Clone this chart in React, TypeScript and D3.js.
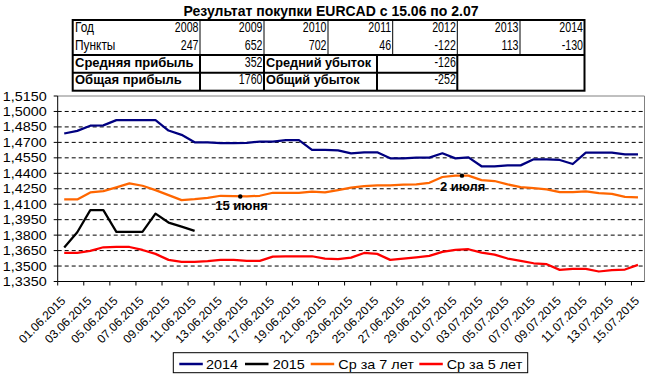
import React from "react";
import * as d3 from "d3";

const title = "Результат покупки EURCAD с 15.06 по 2.07";
const years = ["2008", "2009", "2010", "2011", "2012", "2013", "2014"];
const points = ["247", "652", "702", "46", "-122", "113", "-130"];
const avgProfit = "352";
const avgLoss = "-126";
const totalProfit = "1760";
const totalLoss = "-252";

const dates = [
  "01.06.2015","02.06.2015","03.06.2015","04.06.2015","05.06.2015","06.06.2015","07.06.2015","08.06.2015","09.06.2015","10.06.2015",
  "11.06.2015","12.06.2015","13.06.2015","14.06.2015","15.06.2015","16.06.2015","17.06.2015","18.06.2015","19.06.2015","20.06.2015",
  "21.06.2015","22.06.2015","23.06.2015","24.06.2015","25.06.2015","26.06.2015","27.06.2015","28.06.2015","29.06.2015","30.06.2015",
  "01.07.2015","02.07.2015","03.07.2015","04.07.2015","05.07.2015","06.07.2015","07.07.2015","08.07.2015","09.07.2015","10.07.2015",
  "11.07.2015","12.07.2015","13.07.2015","14.07.2015","15.07.2015",
];

const s2014 = [
  1.4786, 1.4812, 1.4862, 1.4865, 1.4916, 1.4916, 1.4916, 1.4916, 1.4815, 1.4773,
  1.4701, 1.4701, 1.4692, 1.4692, 1.4695, 1.4708, 1.4708, 1.4721, 1.4721, 1.4627,
  1.4627, 1.4623, 1.4594, 1.4604, 1.4604, 1.4545, 1.4545, 1.4552, 1.4552, 1.4594,
  1.4545, 1.4555, 1.4468, 1.4468, 1.4477, 1.4477, 1.4536, 1.4536, 1.4529, 1.449,
  1.4601, 1.4601, 1.4601, 1.4584, 1.4584,
];
const s2015 = [1.3679, 1.3828, 1.4042, 1.4042, 1.3831, 1.3831, 1.3831, 1.4009, 1.3922, 1.3883, 1.3841];
const sAvg7 = [
  1.4146, 1.4146, 1.4214, 1.4227, 1.4263, 1.4302, 1.4279, 1.4237, 1.4188, 1.414,
  1.4149, 1.4162, 1.4182, 1.4179, 1.4175, 1.4182, 1.4211, 1.4211, 1.4211, 1.4221,
  1.4214, 1.4237, 1.426, 1.4276, 1.4282, 1.4282, 1.4289, 1.4292, 1.4308, 1.4364,
  1.4377, 1.4377, 1.4334, 1.4325, 1.4292, 1.4266, 1.4256, 1.4244, 1.4218, 1.4218,
  1.4224, 1.4208, 1.4201, 1.4172, 1.4166,
];
const sAvg5 = [
  1.3627, 1.3627, 1.3647, 1.3682, 1.3685, 1.3685, 1.3656, 1.3618, 1.356, 1.354,
  1.354, 1.3547, 1.356, 1.356, 1.355, 1.355, 1.3592, 1.3595, 1.3595, 1.3595,
  1.3573, 1.3566, 1.3582, 1.3627, 1.3618, 1.356, 1.3573, 1.3585, 1.3598, 1.3637,
  1.3656, 1.3663, 1.3631, 1.3611, 1.3573, 1.355, 1.3527, 1.3518, 1.3463, 1.3473,
  1.3473, 1.3447, 1.346, 1.3466, 1.3511,
];

const yTicks = [1.335, 1.35, 1.365, 1.38, 1.395, 1.41, 1.425, 1.44, 1.455, 1.47, 1.485, 1.5, 1.515];

const series = [
  { name: "2014", values: s2014, color: "#000080" },
  { name: "2015", values: s2015, color: "#000000" },
  { name: "Ср за 7 лет", values: sAvg7, color: "#FF6600" },
  { name: "Ср за 5 лет", values: sAvg5, color: "#FF0000" },
];

const annotations = [
  { date: "15.06.2015", label: "15 июня", dx: -25, dy: 13.5 },
  { date: "02.07.2015", label: "2 июля", dx: -22, dy: 15 },
];

const FONT = "'Liberation Sans', Arial, sans-serif";

function SText({ x, y, sx = 1, size, weight = "normal", family = FONT, anchor = "start", children }: any) {
  return (
    <text
      transform={`translate(${x},${y}) scale(${sx},1)`}
      fontSize={size}
      fontWeight={weight}
      fontFamily={family}
      textAnchor={anchor}
      fill="#000"
    >
      {children}
    </text>
  );
}

export default function App() {
  const left = 57.7, right = 644.5, top = 96, bottom = 281.5;
  const x = d3.scaleBand<string>().domain(dates).range([left, right]).padding(0);
  const bw = x.bandwidth();
  const cx = (d: string) => (x(d) as number) + bw / 2;
  const y = d3.scaleLinear().domain([1.335, 1.515]).range([bottom, top]);
  const fmt = d3.formatLocale({ decimal: ",", thousands: " ", grouping: [3], currency: ["", ""] }).format(".4f");

  const line = d3
    .line<number>()
    .x((_, i) => cx(dates[i]))
    .y((v) => y(v));

  const tL = 72.7, tR = 584.5, tT = 20, tB = 90.7;
  const r2 = 55, r3 = 72.7;
  const colB = [200, 264, 328, 392.7, 457.3, 520, 584.5];
  const row1Y = 32, row2Y = 50, row3Y = 66.5, row4Y = 84;
  const NS = 14, NX = 0.76, LX = 0.85;

  const legendItems = [
    { x: 179.3, tx: 206 },
    { x: 245, tx: 272.7 },
    { x: 310.7, tx: 338.3 },
    { x: 419.3, tx: 446.7 },
  ];

  return (
    <svg
      width={650}
      height={379}
      style={{ position: "absolute", left: 0, top: 0, background: "#fff" }}
    >
      <rect x={0} y={0} width={650} height={379} fill="#fff" />
      <SText x={331} y={16} size={14} weight="bold" anchor="middle">
        {title}
      </SText>

      <g>
        {colB.slice(0, 6).map((cb, i) => (
          <line key={"v" + i} x1={cb} x2={cb} y1={tT} y2={r2} stroke="#000" strokeWidth={1} />
        ))}
        {[200, 264, 377, 457.3].map((cb, i) => (
          <line key={"w" + i} x1={cb} x2={cb} y1={r2} y2={tB} stroke="#000" strokeWidth={2} />
        ))}
        <line x1={tL} x2={457.3} y1={r3} y2={r3} stroke="#000" strokeWidth={2} />
        <line x1={tL} x2={tR} y1={r2} y2={r2} stroke="#000" strokeWidth={2} />
        <rect x={tL} y={tT} width={tR - tL} height={tB - tT} fill="none" stroke="#000" strokeWidth={2} />

        <SText x={75} y={row1Y} size={NS} sx={LX}>Год</SText>
        <SText x={75} y={row2Y} size={NS} sx={LX}>Пункты</SText>
        {years.map((yr, i) => (
          <SText key={"y" + yr} x={colB[i] - 1.5} y={row1Y} size={NS} sx={NX} anchor="end">
            {yr}
          </SText>
        ))}
        {points.map((p, i) => (
          <SText key={"p" + i} x={colB[i] - 1.5} y={row2Y} size={NS} sx={NX} anchor="end">
            {p}
          </SText>
        ))}
        <SText x={75} y={row3Y} size={13} sx={1.0} weight="bold">Средняя прибыль</SText>
        <SText x={75} y={row4Y} size={13} sx={1.0} weight="bold">Общая прибыль</SText>
        <SText x={266} y={row3Y} size={13} sx={0.98} weight="bold">Средний убыток</SText>
        <SText x={266} y={row4Y} size={13} sx={0.98} weight="bold">Общий убыток</SText>
        <SText x={262.5} y={row3Y} size={NS} sx={NX} anchor="end">{avgProfit}</SText>
        <SText x={262.5} y={row4Y} size={NS} sx={NX} anchor="end">{totalProfit}</SText>
        <SText x={455.8} y={row3Y} size={NS} sx={NX} anchor="end">{avgLoss}</SText>
        <SText x={455.8} y={row4Y} size={NS} sx={NX} anchor="end">{totalLoss}</SText>
      </g>

      {yTicks
        .filter((t) => t > 1.336 && t < 1.514)
        .map((t) => (
          <line key={"g" + t} x1={left} x2={right} y1={y(t)} y2={y(t)} stroke="#000" strokeWidth={1} strokeDasharray="4,3" />
        ))}
      <line x1={left} x2={right} y1={top} y2={top} stroke="#808080" strokeWidth={1} />
      <line x1={right} x2={right} y1={top} y2={bottom} stroke="#808080" strokeWidth={1} />

      <line x1={left} x2={left} y1={top} y2={bottom} stroke="#000" strokeWidth={1} />
      {yTicks.map((t) => (
        <g key={"yt" + t}>
          <line x1={left - 4} x2={left} y1={y(t)} y2={y(t)} stroke="#000" />
          <SText x={46.7} y={y(t) + 4.5} size={12.5} sx={1.15} anchor="end">
            {fmt(t)}
          </SText>
        </g>
      ))}

      <line x1={left} x2={right} y1={bottom} y2={bottom} stroke="#000" strokeWidth={1} />
      {dates
        .filter((_, i) => i % 2 === 0)
        .map((d) => (
          <g key={"xt" + d}>
            <line x1={x(d) as number} x2={x(d) as number} y1={bottom} y2={bottom + 4} stroke="#000" />
            <text
              transform={`translate(${cx(d) + 2},${301.5}) rotate(-45)`}
              fontSize={12}
              fontFamily={FONT}
              textAnchor="end"
              fill="#000"
            >
              {d}
            </text>
          </g>
        ))}

      {series.map((s) => (
        <path key={s.name} d={line(s.values) as string} fill="none" stroke={s.color} strokeWidth={2.25} strokeLinejoin="round" />
      ))}

      {annotations.map((a) => {
        const idx = dates.indexOf(a.date);
        const px = x(a.date) as number;
        const py = y(sAvg7[idx]);
        return (
          <g key={a.label}>
            <circle cx={px} cy={py} r={2.2} fill="#000" />
            <SText x={px + a.dx} y={py + a.dy} size={13} weight="bold">
              {a.label}
            </SText>
          </g>
        );
      })}

      <rect x={173.3} y={352.7} width={354.4} height={20} fill="#fff" stroke="#000" strokeWidth={1} />
      {series.map((s, i) => (
        <g key={"lg" + s.name}>
          <line x1={legendItems[i].x} x2={legendItems[i].x + 23.5} y1={364} y2={364} stroke={s.color} strokeWidth={2.5} />
          <SText x={legendItems[i].tx} y={368.5} size={12} sx={1.2}>
            {s.name}
          </SText>
        </g>
      ))}
    </svg>
  );
}
